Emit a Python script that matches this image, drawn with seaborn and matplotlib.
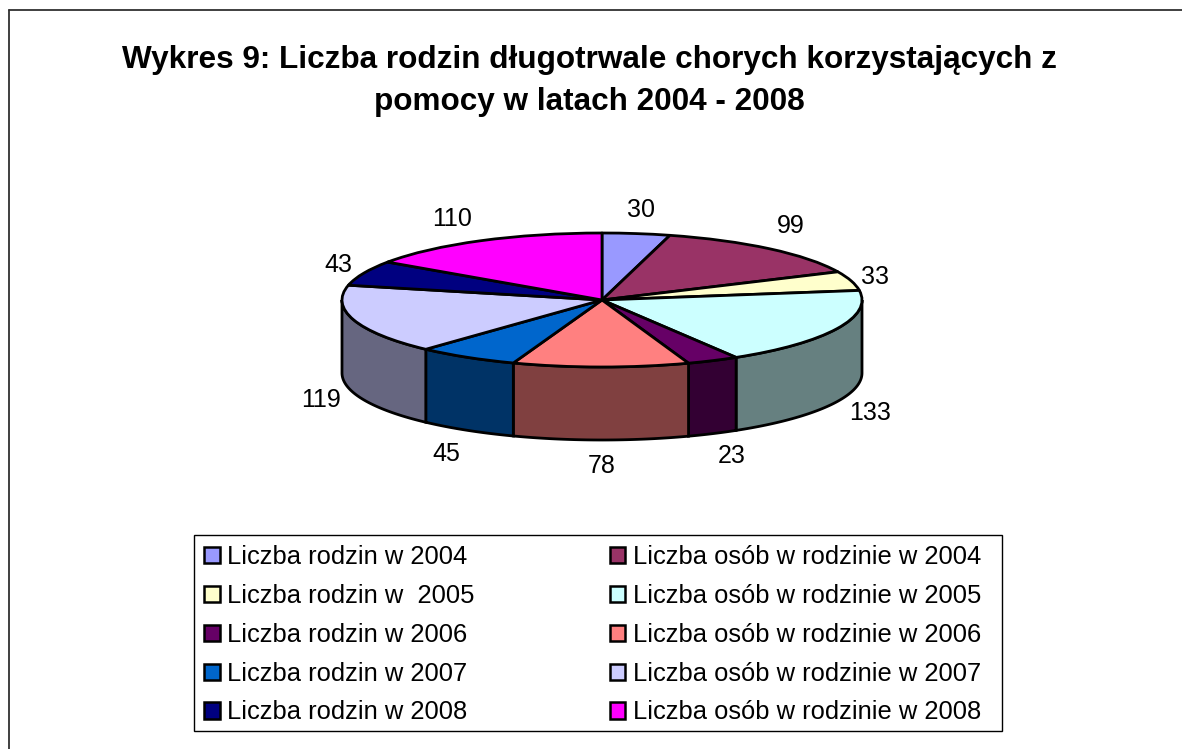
import numpy as np
import pandas as pd
import seaborn as sns
import matplotlib
matplotlib.use("Agg")
import matplotlib.pyplot as plt
from matplotlib.patches import Patch, Rectangle

# ---- data ----
series_labels = [
    "Liczba rodzin w 2004", "Liczba osób w rodzinie w 2004",
    "Liczba rodzin w  2005", "Liczba osób w rodzinie w 2005",
    "Liczba rodzin w 2006", "Liczba osób w rodzinie w 2006",
    "Liczba rodzin w 2007", "Liczba osób w rodzinie w 2007",
    "Liczba rodzin w 2008", "Liczba osób w rodzinie w 2008",
]
series_values = [30, 99, 33, 133, 23, 78, 45, 119, 43, 110]
top_colors = ["#9999FF", "#993366", "#FFFFCC", "#CCFFFF", "#660066",
              "#FF8080", "#0066CC", "#CCCCFF", "#000080", "#FF00FF"]
title_text = "Wykres 9: Liczba rodzin długotrwale chorych korzystających z\npomocy w latach 2004 - 2008"

df = pd.DataFrame({"label": series_labels, "value": series_values})

# ---- layout (pixels of the 1182x749 canvas) ----
W, H = 1182, 749
cx_left, cx_right = 342, 862
top_y, centre_y, depth_px = 233, 300, 73
ry_px = centre_y - top_y
label_pos = [(641, 210), (791, 226), (875, 277), (870, 413), (732, 456),
             (602, 466), (446, 454), (321, 400), (338, 265), (452, 219)]

sns.set_theme(style="white")
plt.rcParams["font.family"] = ["Liberation Sans", "DejaVu Sans"]
palette = sns.color_palette(top_colors)
side_palette = [tuple(c * 0.5 for c in col) for col in palette]

fig = plt.figure(figsize=(W / 100, H / 100), dpi=100, facecolor="white")


def fx(x):
    return x / W


def fy(y):
    return 1 - y / H


bottom_px = centre_y + ry_px + depth_px
ax = fig.add_axes([fx(cx_left), fy(bottom_px), (cx_right - cx_left) / W, (bottom_px - top_y) / H])
edge = dict(edgecolor="black", linewidth=2.0)

ax.pie(df["value"], startangle=90, counterclock=False, colors=palette,
       wedgeprops=dict(joinstyle="round", clip_on=False, **edge))
ax.set_aspect("auto")
depth = depth_px / ry_px
ax.set_xlim(-1, 1)
ax.set_ylim(-1 - depth, 1)
ax.set_axis_off()

# side wall, derived from the same values as the wedges
fracs = df["value"].to_numpy() / df["value"].sum()
ends = 90 - 360 * np.cumsum(fracs)
starts = np.concatenate([[90], ends[:-1]])
for a0, a1, col in zip(starts, ends, side_palette):
    lo, hi = max(a1, -180), min(a0, 0)
    if lo >= hi:
        continue
    t = np.radians(np.linspace(lo, hi, 60))
    xs, ys = np.cos(t), np.sin(t)
    ax.fill(np.r_[xs, xs[::-1]], np.r_[ys, ys[::-1] - depth],
            facecolor=col, clip_on=False, zorder=0.5, **edge)

# data labels
for val, (px, py) in zip(df["value"], label_pos):
    fig.text(fx(px), fy(py), str(val), ha="center", va="center", fontsize=18.0, color="black")

# title
fig.text(fx(589), fy(81), title_text, ha="center", va="center", fontsize=22.65,
         fontweight="bold", color="black", linespacing=1.55)

# legend box
fig.add_artist(Rectangle((fx(194), fy(731)), (1002 - 194) / W, (731 - 535) / H,
                         transform=fig.transFigure, facecolor="white",
                         edgecolor="black", linewidth=1.0, zorder=1))

# legend: row-wise reading order, two columns
order = list(range(0, 10, 2)) + list(range(1, 10, 2))
handles = [Patch(facecolor=palette[i], edgecolor="black", linewidth=1.8, label=df["label"][i]) for i in order]
leg = fig.legend(handles=handles, ncol=2, loc="upper left",
                 bbox_to_anchor=(fx(195), fy(536)), borderaxespad=0,
                 fontsize=18.4, frameon=False,
                 handlelength=0.6, handleheight=0.6, handletextpad=0.3,
                 labelspacing=0.58, columnspacing=5.3, borderpad=0.36)
leg.set_zorder(2)
for t in leg.get_texts():
    t.set_color("black")

# chart frame: only top and left edges fall inside the canvas
fig.add_artist(plt.Line2D([fx(9), 1], [fy(10), fy(10)], color="#303030", linewidth=1.3))
fig.add_artist(plt.Line2D([fx(9), fx(9)], [fy(10), 0], color="#303030", linewidth=1.3))

fig.savefig("out.png", dpi=100, facecolor="white")
